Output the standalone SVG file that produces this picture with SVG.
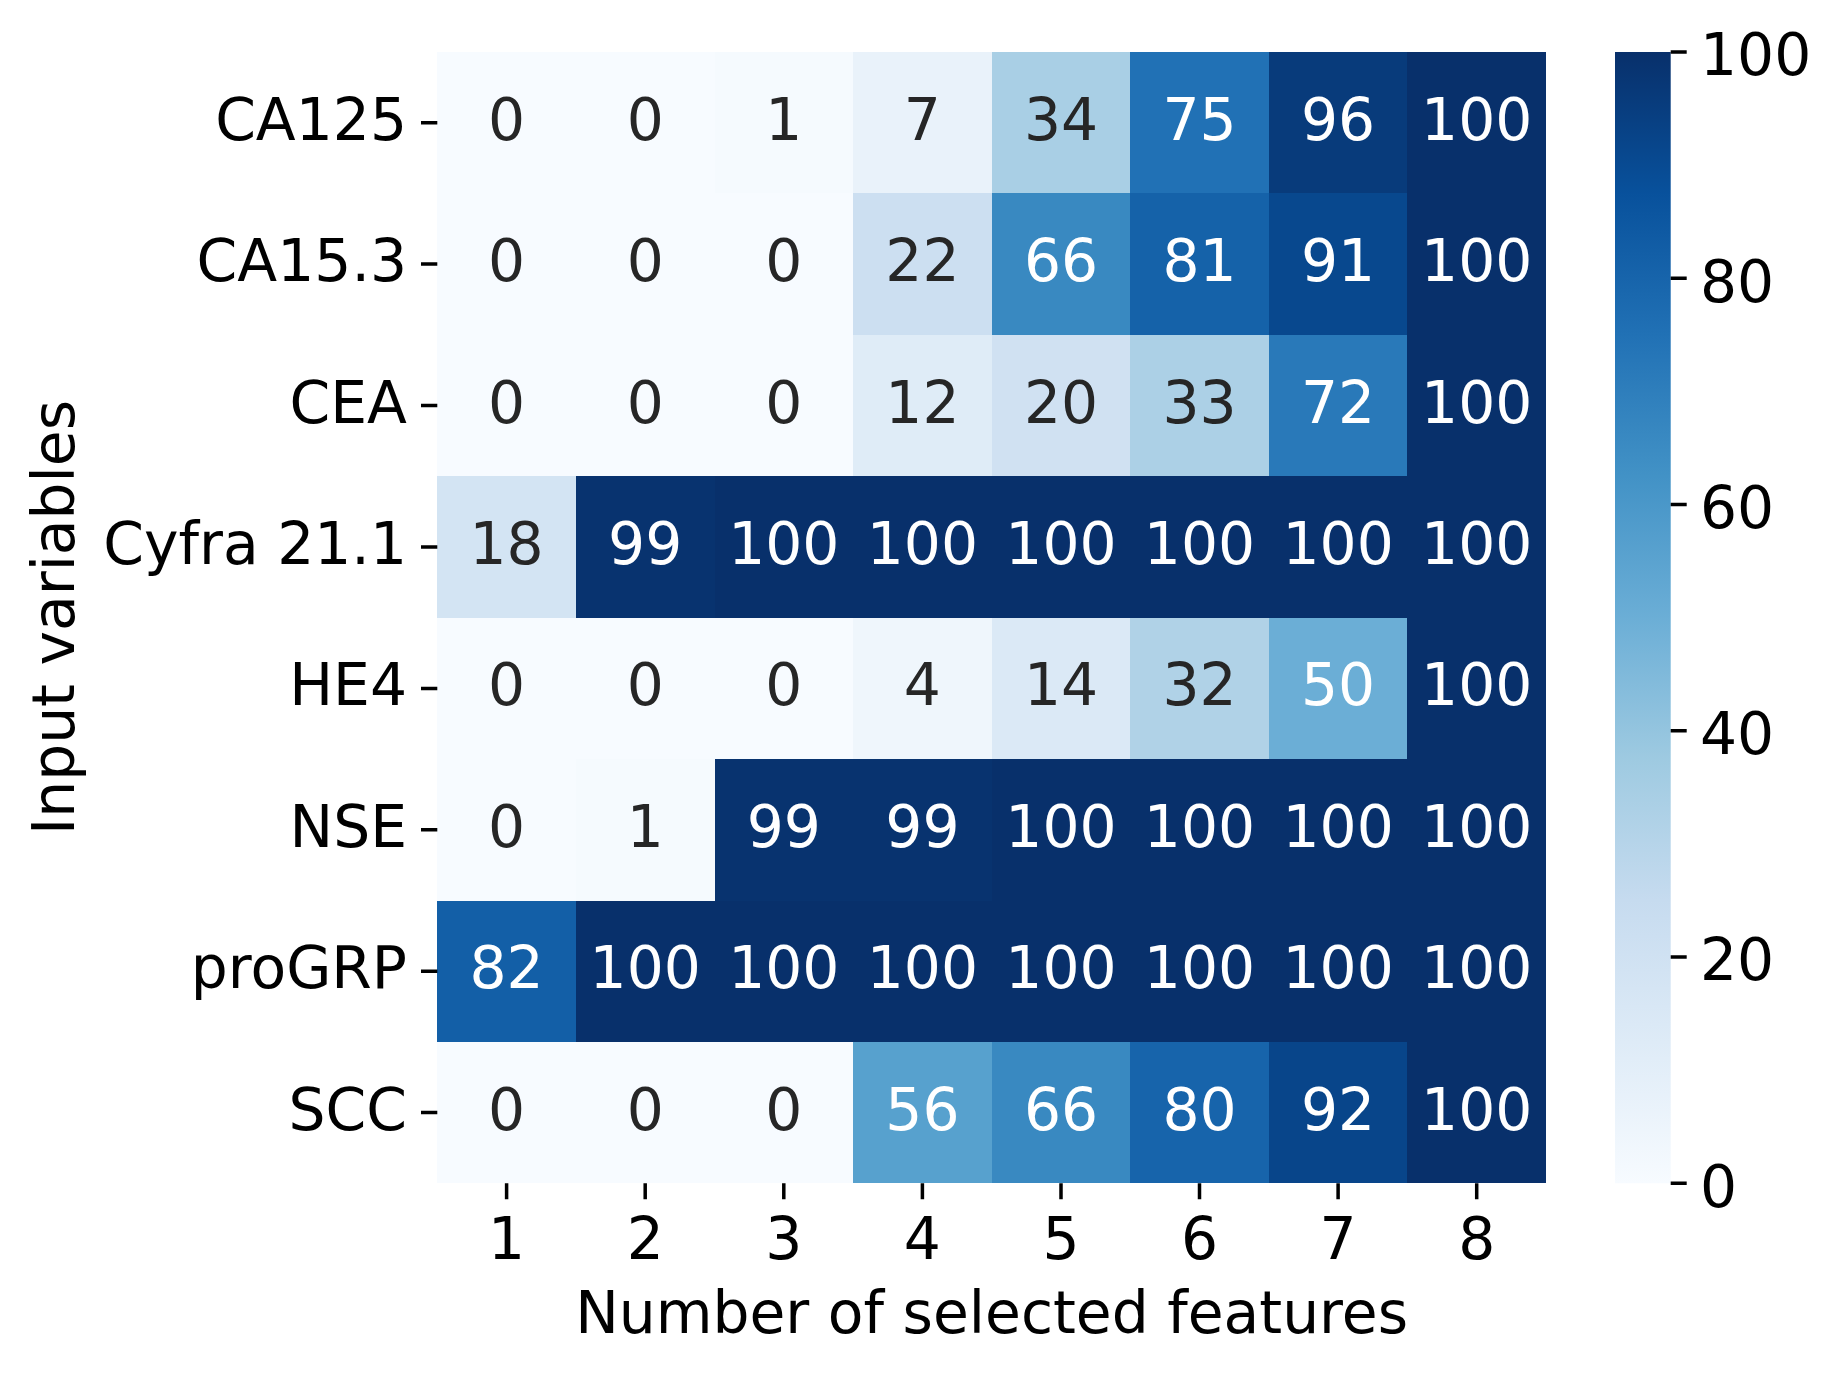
<svg xmlns="http://www.w3.org/2000/svg" width="1841" height="1374" viewBox="0 0 1841 1374">
<style>
text{font-family:"DejaVu Sans","Liberation Sans",sans-serif;font-size:58.3px;fill:#000}
.a{text-anchor:middle}
.d{fill:#262626}
.w{fill:#ffffff}
.yl{text-anchor:end}
.tick{stroke:#000;stroke-width:3.5;fill:none}
.cells rect{shape-rendering:crispEdges}
</style>
<defs>
<linearGradient id="blues" x1="0" y1="1" x2="0" y2="0">
<stop offset="0" stop-color="#f7fbff"/>
<stop offset="0.125" stop-color="#deebf7"/>
<stop offset="0.25" stop-color="#c6dbef"/>
<stop offset="0.375" stop-color="#9ecae1"/>
<stop offset="0.5" stop-color="#6baed6"/>
<stop offset="0.625" stop-color="#4292c6"/>
<stop offset="0.75" stop-color="#2171b5"/>
<stop offset="0.875" stop-color="#08519c"/>
<stop offset="1" stop-color="#08306b"/>
</linearGradient>
</defs>
<rect width="1841" height="1374" fill="#ffffff"/>
<g id="heatmap" class="cells">
<g id="row-CA125">
<rect x="437.3" y="52" width="139.1" height="141.9" fill="#f7fbff"/>
<rect x="575.9" y="52" width="139.1" height="141.9" fill="#f7fbff"/>
<rect x="714.5" y="52" width="139.1" height="141.9" fill="#f5fafe"/>
<rect x="853.1" y="52" width="139.1" height="141.9" fill="#e9f2fa"/>
<rect x="991.7" y="52" width="139.1" height="141.9" fill="#a9cfe5"/>
<rect x="1130.3" y="52" width="139.1" height="141.9" fill="#2171b5"/>
<rect x="1268.8" y="52" width="139.1" height="141.9" fill="#083b7b"/>
<rect x="1407.4" y="52" width="138.6" height="141.9" fill="#08306b"/>
</g>
<g id="row-CA15.3">
<rect x="437.3" y="193.4" width="139.1" height="141.9" fill="#f7fbff"/>
<rect x="575.9" y="193.4" width="139.1" height="141.9" fill="#f7fbff"/>
<rect x="714.5" y="193.4" width="139.1" height="141.9" fill="#f7fbff"/>
<rect x="853.1" y="193.4" width="139.1" height="141.9" fill="#ccdff1"/>
<rect x="991.7" y="193.4" width="139.1" height="141.9" fill="#3989c1"/>
<rect x="1130.3" y="193.4" width="139.1" height="141.9" fill="#1562a9"/>
<rect x="1268.8" y="193.4" width="139.1" height="141.9" fill="#08488e"/>
<rect x="1407.4" y="193.4" width="138.6" height="141.9" fill="#08306b"/>
</g>
<g id="row-CEA">
<rect x="437.3" y="334.8" width="139.1" height="141.9" fill="#f7fbff"/>
<rect x="575.9" y="334.8" width="139.1" height="141.9" fill="#f7fbff"/>
<rect x="714.5" y="334.8" width="139.1" height="141.9" fill="#f7fbff"/>
<rect x="853.1" y="334.8" width="139.1" height="141.9" fill="#dfecf7"/>
<rect x="991.7" y="334.8" width="139.1" height="141.9" fill="#d0e1f2"/>
<rect x="1130.3" y="334.8" width="139.1" height="141.9" fill="#acd0e6"/>
<rect x="1268.8" y="334.8" width="139.1" height="141.9" fill="#2979b9"/>
<rect x="1407.4" y="334.8" width="138.6" height="141.9" fill="#08306b"/>
</g>
<g id="row-Cyfra">
<rect x="437.3" y="476.2" width="139.1" height="141.9" fill="#d3e4f3"/>
<rect x="575.9" y="476.2" width="139.1" height="141.9" fill="#08336f"/>
<rect x="714.5" y="476.2" width="139.1" height="141.9" fill="#08306b"/>
<rect x="853.1" y="476.2" width="139.1" height="141.9" fill="#08306b"/>
<rect x="991.7" y="476.2" width="139.1" height="141.9" fill="#08306b"/>
<rect x="1130.3" y="476.2" width="139.1" height="141.9" fill="#08306b"/>
<rect x="1268.8" y="476.2" width="139.1" height="141.9" fill="#08306b"/>
<rect x="1407.4" y="476.2" width="138.6" height="141.9" fill="#08306b"/>
</g>
<g id="row-HE4">
<rect x="437.3" y="617.7" width="139.1" height="141.9" fill="#f7fbff"/>
<rect x="575.9" y="617.7" width="139.1" height="141.9" fill="#f7fbff"/>
<rect x="714.5" y="617.7" width="139.1" height="141.9" fill="#f7fbff"/>
<rect x="853.1" y="617.7" width="139.1" height="141.9" fill="#eff6fc"/>
<rect x="991.7" y="617.7" width="139.1" height="141.9" fill="#dbe9f6"/>
<rect x="1130.3" y="617.7" width="139.1" height="141.9" fill="#b0d2e7"/>
<rect x="1268.8" y="617.7" width="139.1" height="141.9" fill="#6baed6"/>
<rect x="1407.4" y="617.7" width="138.6" height="141.9" fill="#08306b"/>
</g>
<g id="row-NSE">
<rect x="437.3" y="759.1" width="139.1" height="141.9" fill="#f7fbff"/>
<rect x="575.9" y="759.1" width="139.1" height="141.9" fill="#f5fafe"/>
<rect x="714.5" y="759.1" width="139.1" height="141.9" fill="#08336f"/>
<rect x="853.1" y="759.1" width="139.1" height="141.9" fill="#08336f"/>
<rect x="991.7" y="759.1" width="139.1" height="141.9" fill="#08306b"/>
<rect x="1130.3" y="759.1" width="139.1" height="141.9" fill="#08306b"/>
<rect x="1268.8" y="759.1" width="139.1" height="141.9" fill="#08306b"/>
<rect x="1407.4" y="759.1" width="138.6" height="141.9" fill="#08306b"/>
</g>
<g id="row-proGRP">
<rect x="437.3" y="900.5" width="139.1" height="141.9" fill="#135fa7"/>
<rect x="575.9" y="900.5" width="139.1" height="141.9" fill="#08306b"/>
<rect x="714.5" y="900.5" width="139.1" height="141.9" fill="#08306b"/>
<rect x="853.1" y="900.5" width="139.1" height="141.9" fill="#08306b"/>
<rect x="991.7" y="900.5" width="139.1" height="141.9" fill="#08306b"/>
<rect x="1130.3" y="900.5" width="139.1" height="141.9" fill="#08306b"/>
<rect x="1268.8" y="900.5" width="139.1" height="141.9" fill="#08306b"/>
<rect x="1407.4" y="900.5" width="138.6" height="141.9" fill="#08306b"/>
</g>
<g id="row-SCC">
<rect x="437.3" y="1041.9" width="139.1" height="141.4" fill="#f7fbff"/>
<rect x="575.9" y="1041.9" width="139.1" height="141.4" fill="#f7fbff"/>
<rect x="714.5" y="1041.9" width="139.1" height="141.4" fill="#f7fbff"/>
<rect x="853.1" y="1041.9" width="139.1" height="141.4" fill="#57a1ce"/>
<rect x="991.7" y="1041.9" width="139.1" height="141.4" fill="#3989c1"/>
<rect x="1130.3" y="1041.9" width="139.1" height="141.4" fill="#1764ab"/>
<rect x="1268.8" y="1041.9" width="139.1" height="141.4" fill="#08458a"/>
<rect x="1407.4" y="1041.9" width="138.6" height="141.4" fill="#08306b"/>
</g>
</g>
<g id="annotations" class="a">
<text x="506.6" y="139.7" class="a d">0</text><text x="645.2" y="139.7" class="a d">0</text><text x="783.8" y="139.7" class="a d">1</text><text x="922.4" y="139.7" class="a d">7</text><text x="1061" y="139.7" class="a d">34</text><text x="1199.5" y="139.7" class="a w">75</text><text x="1338.1" y="139.7" class="a w">96</text><text x="1476.7" y="139.7" class="a w">100</text>
<text x="506.6" y="281.1" class="a d">0</text><text x="645.2" y="281.1" class="a d">0</text><text x="783.8" y="281.1" class="a d">0</text><text x="922.4" y="281.1" class="a d">22</text><text x="1061" y="281.1" class="a w">66</text><text x="1199.5" y="281.1" class="a w">81</text><text x="1338.1" y="281.1" class="a w">91</text><text x="1476.7" y="281.1" class="a w">100</text>
<text x="506.6" y="422.5" class="a d">0</text><text x="645.2" y="422.5" class="a d">0</text><text x="783.8" y="422.5" class="a d">0</text><text x="922.4" y="422.5" class="a d">12</text><text x="1061" y="422.5" class="a d">20</text><text x="1199.5" y="422.5" class="a d">33</text><text x="1338.1" y="422.5" class="a w">72</text><text x="1476.7" y="422.5" class="a w">100</text>
<text x="506.6" y="563.9" class="a d">18</text><text x="645.2" y="563.9" class="a w">99</text><text x="783.8" y="563.9" class="a w">100</text><text x="922.4" y="563.9" class="a w">100</text><text x="1061" y="563.9" class="a w">100</text><text x="1199.5" y="563.9" class="a w">100</text><text x="1338.1" y="563.9" class="a w">100</text><text x="1476.7" y="563.9" class="a w">100</text>
<text x="506.6" y="705.4" class="a d">0</text><text x="645.2" y="705.4" class="a d">0</text><text x="783.8" y="705.4" class="a d">0</text><text x="922.4" y="705.4" class="a d">4</text><text x="1061" y="705.4" class="a d">14</text><text x="1199.5" y="705.4" class="a d">32</text><text x="1338.1" y="705.4" class="a w">50</text><text x="1476.7" y="705.4" class="a w">100</text>
<text x="506.6" y="846.8" class="a d">0</text><text x="645.2" y="846.8" class="a d">1</text><text x="783.8" y="846.8" class="a w">99</text><text x="922.4" y="846.8" class="a w">99</text><text x="1061" y="846.8" class="a w">100</text><text x="1199.5" y="846.8" class="a w">100</text><text x="1338.1" y="846.8" class="a w">100</text><text x="1476.7" y="846.8" class="a w">100</text>
<text x="506.6" y="988.2" class="a w">82</text><text x="645.2" y="988.2" class="a w">100</text><text x="783.8" y="988.2" class="a w">100</text><text x="922.4" y="988.2" class="a w">100</text><text x="1061" y="988.2" class="a w">100</text><text x="1199.5" y="988.2" class="a w">100</text><text x="1338.1" y="988.2" class="a w">100</text><text x="1476.7" y="988.2" class="a w">100</text>
<text x="506.6" y="1129.6" class="a d">0</text><text x="645.2" y="1129.6" class="a d">0</text><text x="783.8" y="1129.6" class="a d">0</text><text x="922.4" y="1129.6" class="a w">56</text><text x="1061" y="1129.6" class="a w">66</text><text x="1199.5" y="1129.6" class="a w">80</text><text x="1338.1" y="1129.6" class="a w">92</text><text x="1476.7" y="1129.6" class="a w">100</text>
</g>
<g id="y-axis">
<path class="tick" d="M421,122.7H437.3M421,264.1H437.3M421,405.5H437.3M421,546.9H437.3M421,688.4H437.3M421,829.8H437.3M421,971.2H437.3M421,1112.6H437.3"/>
<text x="407" y="139.7" class="yl">CA125</text>
<text x="407" y="281.1" class="yl">CA15.3</text>
<text x="407" y="422.5" class="yl">CEA</text>
<text x="407" y="563.9" class="yl">Cyfra 21.1</text>
<text x="407" y="705.4" class="yl">HE4</text>
<text x="407" y="846.8" class="yl">NSE</text>
<text x="407" y="988.2" class="yl">proGRP</text>
<text x="407" y="1129.6" class="yl">SCC</text>
<text transform="translate(74,617.5) rotate(-90)" class="a">Input variables</text>
</g>
<g id="x-axis">
<path class="tick" d="M506.6,1183.3V1199.3M645.2,1183.3V1199.3M783.8,1183.3V1199.3M922.4,1183.3V1199.3M1061,1183.3V1199.3M1199.5,1183.3V1199.3M1338.1,1183.3V1199.3M1476.7,1183.3V1199.3"/>
<text x="506.6" y="1258.5" class="a">1</text>
<text x="645.2" y="1258.5" class="a">2</text>
<text x="783.8" y="1258.5" class="a">3</text>
<text x="922.4" y="1258.5" class="a">4</text>
<text x="1061" y="1258.5" class="a">5</text>
<text x="1199.5" y="1258.5" class="a">6</text>
<text x="1338.1" y="1258.5" class="a">7</text>
<text x="1476.7" y="1258.5" class="a">8</text>
<text x="991.6" y="1333" class="a">Number of selected features</text>
</g>
<g id="colorbar">
<rect x="1615" y="52" width="55.7" height="1131.3" fill="url(#blues)"/>
<path class="tick" d="M1670.7,1183.3H1686.7M1670.7,957.1H1686.7M1670.7,730.8H1686.7M1670.7,504.5H1686.7M1670.7,278.3H1686.7M1670.7,52H1686.7"/>
<text x="1700" y="1206.6">0</text>
<text x="1700" y="980.4">20</text>
<text x="1700" y="754.1">40</text>
<text x="1700" y="527.8">60</text>
<text x="1700" y="301.6">80</text>
<text x="1700" y="75.3">100</text>
</g>
</svg>
